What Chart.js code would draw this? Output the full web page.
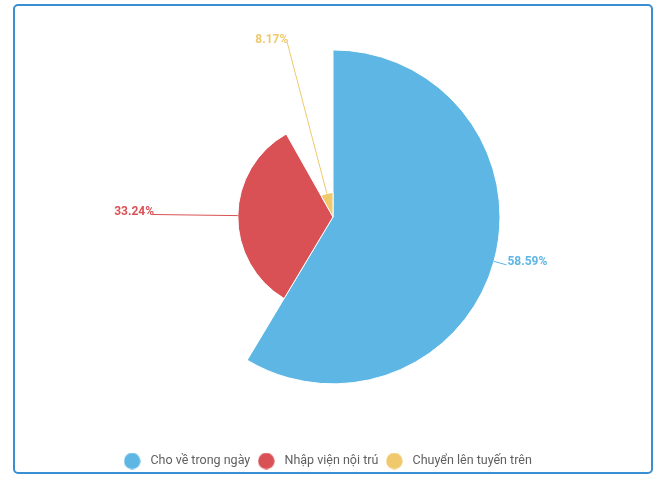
<!DOCTYPE html>
<html>
<head>
<meta charset="utf-8">
<script src="https://cdn.jsdelivr.net/npm/chart.js@4.4.1/dist/chart.umd.min.js"></script>
<style>
  html, body { margin: 0; padding: 0; background: #fff; }
  #wrap { position: relative; width: 660px; height: 481px; overflow: hidden; }
  #frame {
    position: absolute; left: 13px; top: 4px; width: 636px; height: 466px;
    border: 2px solid #3a8fd3; border-radius: 5px;
  }
  canvas { position: absolute; left: 0; top: -17px; }
</style>
</head>
<body>
<div id="wrap">
  <div id="frame"></div>
  <canvas id="pieChart" width="660" height="498"></canvas>
</div>
<script>
// dados do gráfico
const categories = ['Cho về trong ngày', 'Nhập viện nội trú', 'Chuyển lên tuyến trên'];
const percentValues = [58.59, 33.24, 8.17];
// profundidade relativa de cada fatia (pizza de raio variável)
const depthValues = [100, 57, 14.5];
const sliceColors = ['#5eb6e4', '#d95155', '#efc96b'];

// bolinhas da legenda
const legendDots = sliceColors.map(color => {
    const c = document.createElement('canvas');
    c.width = 17; c.height = 17;
    const g = c.getContext('2d');
    g.fillStyle = color;
    g.beginPath();
    g.arc(8.5, 8.5, 8.2, 0, Math.PI * 2);
    g.fill();
    return c;
});

// ajusta o raio de cada fatia conforme a profundidade
const variableRadius = {
    id: 'variableRadius',
    afterDatasetsUpdate(chart) {
        const meta = chart.getDatasetMeta(0);
        const base = meta.controller.outerRadius;
        const maxDepth = Math.max(...depthValues);
        meta.data.forEach((arc, i) => {
            arc.outerRadius = base * depthValues[i] / maxDepth;
        });
    }
};

// rótulos com linha de ligação
const sliceLabels = {
    id: 'sliceLabels',
    afterDatasetsDraw(chart) {
        const ctx = chart.ctx;
        const meta = chart.getDatasetMeta(0);
        const base = meta.controller.outerRadius;
        ctx.save();
        ctx.font = 'bold 12px Roboto';
        ctx.textBaseline = 'middle';
        meta.data.forEach((arc, i) => {
            const mid = (arc.startAngle + arc.endAngle) / 2;
            const cos = Math.cos(mid), sin = Math.sin(mid);
            const x0 = arc.x + cos * arc.outerRadius;
            const y0 = arc.y + sin * arc.outerRadius;
            const x1 = arc.x + cos * (base + 13);
            const y1 = arc.y + sin * (base + 13);
            ctx.strokeStyle = sliceColors[i];
            ctx.lineWidth = 1;
            ctx.beginPath();
            ctx.moveTo(x0, y0);
            ctx.lineTo(x1, y1);
            ctx.stroke();
            ctx.fillStyle = sliceColors[i];
            const right = cos >= 0;
            ctx.textAlign = right ? 'left' : 'right';
            ctx.fillText(percentValues[i].toFixed(2) + '%', x1 + 1, y1 - 3);
        });
        ctx.restore();
    }
};

new Chart(document.getElementById('pieChart'), {
    type: 'pie',
    data: {
        labels: categories,
        datasets: [{
            data: percentValues,
            backgroundColor: sliceColors,
            borderColor: '#ffffff',
            borderWidth: 1
        }]
    },
    options: {
        responsive: false,
        animation: false,
        radius: 167,
        layout: { padding: { left: 0, right: 8, top: 0, bottom: 3.75 } },
        plugins: {
            // caixa vazia à esquerda só para deslocar a pizza em relação à legenda
            title: {
                display: true,
                text: ' ',
                position: 'left',
                fullSize: false,
                font: { size: 1 },
                padding: { top: 6.4, bottom: 6.4 }
            },
            legend: {
                position: 'bottom',
                labels: {
                    usePointStyle: true,
                    pointStyleWidth: 24,
                    padding: 4,
                    color: '#5f5f5f',
                    font: { family: 'Roboto', size: 12.5 },
                    generateLabels: () => categories.map((text, i) => ({
                        text,
                        fillStyle: sliceColors[i],
                        strokeStyle: sliceColors[i],
                        lineWidth: 0,
                        pointStyle: legendDots[i],
                        fontColor: '#5f5f5f',
                        hidden: false,
                        index: i
                    }))
                }
            },
            tooltip: { enabled: false }
        }
    },
    plugins: [variableRadius, sliceLabels]
});
</script>
</body>
</html>
